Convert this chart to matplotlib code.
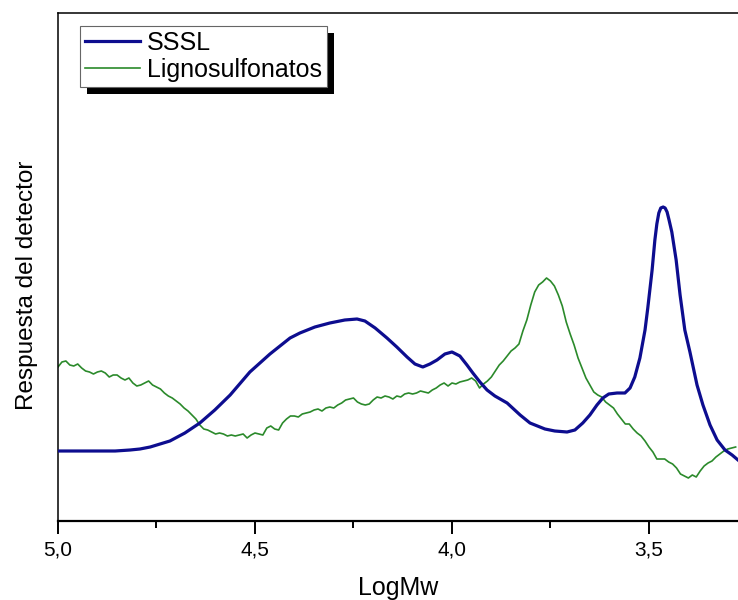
import numpy as np
import matplotlib
matplotlib.use("Agg")
import matplotlib.pyplot as plt
from matplotlib.patches import Rectangle
from matplotlib.transforms import IdentityTransform
from matplotlib.ticker import FixedLocator, FuncFormatter

plt.rcParams["font.family"] = ["Liberation Sans", "DejaVu Sans"]

# SSSL (smooth trace)
sssl_logmw = [5.000, 4.893, 4.855, 4.817, 4.792, 4.766, 4.741, 4.716, 4.678, 4.640,
              4.602, 4.563, 4.513, 4.462, 4.411, 4.386, 4.348, 4.310, 4.272, 4.241,
              4.221, 4.195, 4.165, 4.140, 4.114, 4.094, 4.074, 4.056, 4.038, 4.018,
              4.000, 3.980, 3.962, 3.947, 3.929, 3.911, 3.891, 3.860, 3.827, 3.802,
              3.764, 3.739, 3.708, 3.688, 3.668, 3.650, 3.632, 3.617, 3.602, 3.581,
              3.561, 3.548, 3.536, 3.523, 3.510, 3.503, 3.492, 3.485, 3.480, 3.475,
              3.470, 3.464, 3.459, 3.454, 3.449, 3.442, 3.431, 3.421, 3.409, 3.396,
              3.378, 3.363, 3.345, 3.327, 3.307, 3.289, 3.274]
sssl_resp = [70, 70, 70, 71, 72, 74, 77, 80, 88, 98,
             111, 126, 149, 167, 183, 188, 194, 198, 201, 202,
             200, 193, 183, 174, 164, 157, 154, 157, 161, 167,
             169, 165, 156, 148, 139, 131, 125, 118, 106, 98,
             92, 90, 89, 91, 98, 106, 116, 123, 127, 128,
             128, 133, 144, 163, 191, 213, 251, 281, 297, 308,
             313, 314, 313, 309, 301, 289, 261, 226, 191, 169,
             136, 116, 96, 81, 71, 66, 61]

# Lignosulfonatos (noisy trace, sampled every 0.01 LogMw from 5.00 down)
ligno_logmw = np.round(np.arange(500, 327, -1) / 100, 2)
ligno_resp = [154, 159, 160, 156, 155, 157, 153, 150, 149, 147,
              149, 150, 148, 144, 146, 146, 143, 141, 143, 138,
              135, 136, 138, 140, 136, 134, 132, 128, 125, 123,
              120, 117, 113, 110, 106, 102, 96, 92, 91, 89,
              87, 88, 87, 85, 86, 85, 86, 87, 83, 86,
              88, 87, 86, 93, 95, 92, 91, 98, 102, 105,
              105, 104, 107, 108, 109, 111, 112, 110, 113, 114,
              113, 116, 118, 121, 122, 123, 119, 117, 116, 117,
              121, 124, 123, 125, 124, 122, 125, 124, 127, 128,
              127, 128, 130, 129, 128, 131, 133, 136, 138, 135,
              138, 137, 139, 140, 141, 143, 140, 133, 137, 140,
              144, 150, 156, 160, 165, 170, 173, 177, 190, 201,
              216, 229, 236, 239, 243, 240, 235, 226, 215, 199,
              187, 176, 163, 153, 143, 136, 129, 126, 124, 119,
              116, 113, 107, 102, 97, 97, 92, 88, 85, 80,
              74, 69, 62, 62, 62, 59, 57, 53, 47, 45,
              43, 46, 44, 50, 55, 58, 60, 64, 67, 70,
              72, 73, 74]

major_ticks = [5.0, 4.5, 4.0, 3.5]
minor_ticks = [4.75, 4.25, 3.75]

fig = plt.figure(figsize=(7.38, 6.0), dpi=100)
ax = fig.add_axes([58 / 738, 79 / 600, 680 / 738, 508 / 600])

ax.plot(sssl_logmw, sssl_resp, color="#0d0d8f", lw=2.3, label="SSSL", zorder=3)
ax.plot(ligno_logmw, ligno_resp, color="#2b8a2b", lw=1.2, label="Lignosulfonatos", zorder=2)

ax.set_xlim(5.0, 3.274)
ax.set_ylim(0, 508)

ax.xaxis.set_major_locator(FixedLocator(major_ticks))
ax.xaxis.set_minor_locator(FixedLocator(minor_ticks))
ax.xaxis.set_major_formatter(FuncFormatter(lambda v, p: f"{v:.1f}".replace(".", ",")))
ax.tick_params(axis="x", which="major", direction="out", length=9, width=1.4, labelsize=15, pad=5)
ax.tick_params(axis="x", which="minor", direction="out", length=5, width=1.4)
ax.set_yticks([])

ax.spines["right"].set_visible(False)
ax.spines["bottom"].set_linewidth(1.6)
ax.spines["left"].set_linewidth(1.1)
ax.spines["top"].set_linewidth(1.1)

ax.set_xlabel("LogMw", fontsize=18, labelpad=12)
ax.set_ylabel("Respuesta del detector", fontsize=17.5)
ax.yaxis.set_label_coords(-0.03, 0.463)

leg = ax.legend(loc="upper left", bbox_to_anchor=(0.032, 0.974), borderaxespad=0,
                frameon=True, fancybox=False, framealpha=1, edgecolor="#666666",
                fontsize=18, borderpad=0.2, handlelength=2.2, handletextpad=0.3,
                labelspacing=0.12)
leg.get_frame().set_linewidth(0.8)

fig.canvas.draw()
bb = leg.get_frame().get_window_extent()
shadow = Rectangle((bb.x0 + 7, bb.y0 - 7), bb.width, bb.height, transform=IdentityTransform(),
                   facecolor="black", edgecolor="none", zorder=leg.get_zorder() - 0.1, clip_on=False)
ax.add_patch(shadow)

fig.savefig("out.png", dpi=100)
